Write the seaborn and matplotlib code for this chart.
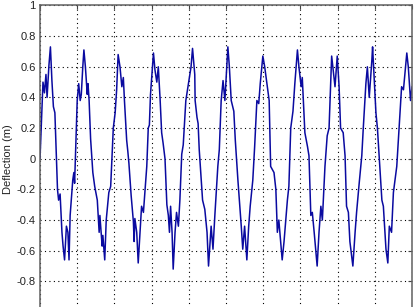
import numpy as np
import pandas as pd
import seaborn as sns
import matplotlib
matplotlib.use("Agg")
import matplotlib.pyplot as plt


# DATA

time_s = [
    0.00, 0.03, 0.08, 0.12, 0.16, 0.19, 0.24, 0.28, 0.32, 0.36, 0.40, 0.47, 0.50, 0.54,
    0.59, 0.62, 0.66, 0.71, 0.75, 0.78, 0.81, 0.88, 0.91, 0.93, 1.00, 1.04, 1.08, 1.11,
    1.15, 1.18, 1.22, 1.27, 1.29, 1.32, 1.36, 1.42, 1.47, 1.54, 1.59, 1.61, 1.67, 1.69,
    1.74, 1.78, 1.85, 1.90, 1.97, 2.02, 2.06, 2.10, 2.15, 2.20, 2.24, 2.27, 2.33, 2.36,
    2.39, 2.45, 2.51, 2.53, 2.55, 2.60, 2.64, 2.69, 2.73, 2.78, 2.87, 2.91, 2.94, 2.97,
    3.05, 3.09, 3.14, 3.18, 3.23, 3.27, 3.31, 3.36, 3.41, 3.45, 3.48, 3.51, 3.55, 3.58,
    3.63, 3.67, 3.72, 3.76, 3.81, 3.85, 3.92, 3.99, 4.06, 4.10, 4.16, 4.17, 4.22, 4.25,
    4.28, 4.31, 4.37, 4.43, 4.49, 4.53, 4.60, 4.65, 4.70, 4.78, 4.82, 4.87, 4.92, 4.97,
    5.02, 5.05, 5.09, 5.14, 5.21, 5.25, 5.32, 5.36, 5.41, 5.45, 5.50, 5.56, 5.61, 5.65,
    5.72, 5.77, 5.83, 5.88, 5.92, 5.99, 6.04, 6.10, 6.16, 6.20, 6.29, 6.34, 6.38, 6.42,
    6.51, 6.56, 6.65, 6.69, 6.74, 6.80, 6.85, 6.92, 6.96, 7.02, 7.05, 7.12, 7.19, 7.23,
    7.28, 7.32, 7.37, 7.45, 7.50, 7.55, 7.59, 7.66, 7.72, 7.77, 7.84, 7.93, 7.99, 8.04,
    8.08, 8.15, 8.20, 8.24, 8.29, 8.33, 8.41, 8.47, 8.51, 8.58, 8.65, 8.69, 8.76, 8.80,
    8.85, 8.92, 8.94, 8.99, 9.03, 9.07, 9.19, 9.23, 9.30, 9.35, 9.39, 9.45, 9.50, 9.59,
    9.72, 9.77, 9.86, 9.90, 9.96, 10.00,
]

deflection_m = [
    0.00, 0.19, 0.50, 0.43, 0.55, 0.40, 0.61, 0.73, 0.51, 0.34, 0.30, -0.20, -0.27, -0.23,
    -0.48, -0.57, -0.66, -0.44, -0.48, -0.66, -0.37, -0.14, -0.09, -0.16, 0.38, 0.49, 0.38, 0.42,
    0.60, 0.71, 0.60, 0.42, 0.49, 0.38, 0.13, -0.09, -0.18, -0.27, -0.48, -0.37, -0.57, -0.50,
    -0.66, -0.40, -0.22, -0.18, 0.20, 0.30, 0.45, 0.68, 0.60, 0.47, 0.53, 0.38, 0.12, 0.05,
    -0.03, -0.24, -0.41, -0.54, -0.39, -0.48, -0.68, -0.48, -0.31, -0.35, -0.05, 0.20, 0.22, 0.42,
    0.69, 0.58, 0.50, 0.60, 0.38, 0.17, 0.10, 0.00, -0.30, -0.37, -0.48, -0.31, -0.48, -0.72,
    -0.48, -0.35, -0.44, -0.27, 0.03, 0.09, 0.38, 0.49, 0.60, 0.72, 0.55, 0.38, 0.27, 0.23,
    0.06, -0.05, -0.27, -0.33, -0.48, -0.70, -0.44, -0.59, -0.37, -0.05, 0.06, 0.38, 0.51, 0.38,
    0.60, 0.73, 0.60, 0.38, 0.31, 0.12, -0.14, -0.27, -0.44, -0.59, -0.44, -0.66, -0.44, -0.31,
    -0.14, 0.08, 0.38, 0.36, 0.49, 0.67, 0.60, 0.49, 0.38, -0.05, -0.09, -0.20, -0.48, -0.40,
    -0.66, -0.54, -0.27, -0.18, 0.20, 0.31, 0.49, 0.71, 0.60, 0.47, 0.53, 0.17, 0.08, 0.02,
    -0.37, -0.35, -0.48, -0.70, -0.48, -0.31, -0.40, -0.05, 0.15, 0.20, 0.67, 0.47, 0.67, 0.47,
    0.20, 0.17, 0.02, -0.31, -0.35, -0.54, -0.70, -0.48, -0.35, -0.16, 0.02, 0.20, 0.49, 0.60,
    0.40, 0.64, 0.73, 0.49, 0.30, 0.20, -0.27, -0.31, -0.59, -0.68, -0.44, -0.48, -0.22, -0.05,
    0.47, 0.45, 0.69, 0.60, 0.38, 0.47,
]

x_ticks = [0, 1, 2, 3, 4, 5, 6, 7, 8, 9, 10]
y_ticks = [-1, -0.8, -0.6, -0.4, -0.2, 0, 0.2, 0.4, 0.6, 0.8, 1]
y_tick_labels = ["", "-0.8", "-0.6", "-0.4", "-0.2", "0", "0.2", "0.4", "0.6", "0.8", "1"]


# PLOT

df = pd.DataFrame({"Time": time_s, "Deflection": deflection_m})

sns.set_style("white")
plt.rcParams["font.family"] = ["Liberation Sans", "DejaVu Sans"]

fig = plt.figure(figsize=(4.15, 3.07), dpi=100)
ax = fig.add_axes([0.0964, -0.0163, 0.8964, 0.9984])

sns.lineplot(data=df, x="Time", y="Deflection", ax=ax, color="#0a0aa0",
             linewidth=1.1, estimator=None, sort=False)

ax.set_xlim(0, 10)
ax.set_ylim(-1, 1)
ax.set_xticks(x_ticks)
ax.set_xticklabels([""] * len(x_ticks))
ax.set_yticks(y_ticks)
ax.set_yticklabels(y_tick_labels, fontsize=8, color="#222222")
ax.set_xlabel("")
ax.set_ylabel("Deflection (m)", fontsize=8, color="#222222", va="center")
ax.yaxis.set_label_coords(-0.086, 0.5)

ax.grid(True, color="black", linestyle=(0, (1, 3)), linewidth=0.8)
ax.tick_params(direction="in", length=3, width=0.8, top=True, right=True,
               color="#444444", pad=3)
for spine in ax.spines.values():
    spine.set_color("#606060")
    spine.set_linewidth(1.1)

plt.savefig("out.png", dpi=100)
